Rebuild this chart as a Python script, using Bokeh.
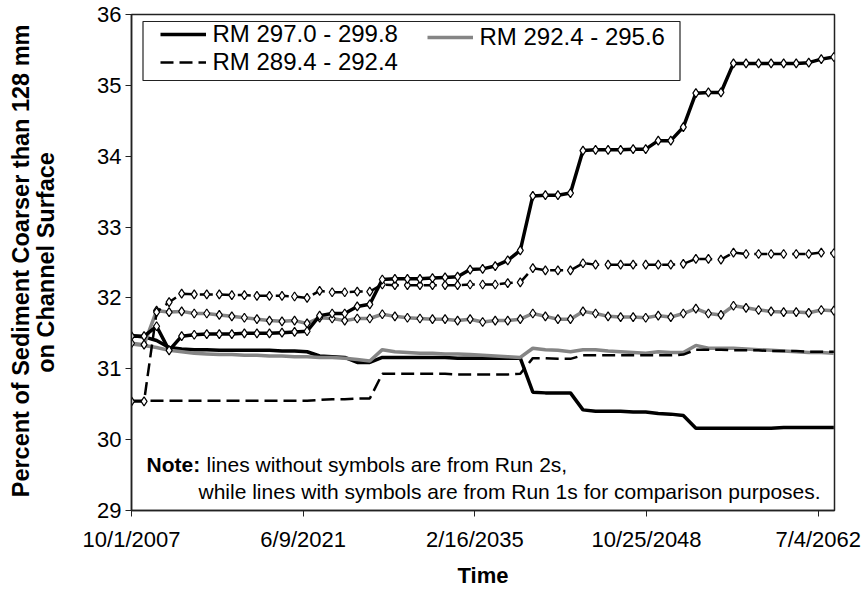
import pandas as pd
from bokeh.plotting import figure
from bokeh.models import (Range1d, FixedTicker, Legend, LegendItem, Label, Title, BoxAnnotation)
from bokeh.embed import file_html
from bokeh.resources import INLINE

# ---------------- data ----------------
start_date = "2007-10-01"
n_years = 57
tick_serials = [39356, 44356, 49356, 54356, 59356]
tick_labels = ["10/1/2007", "6/9/2021", "2/16/2035", "10/25/2048", "7/4/2062"]

# Run 2s (no symbols)
run2_rm297 = [31.47, 31.45, 31.40, 31.30, 31.28, 31.27, 31.27, 31.26, 31.26, 31.26,
              31.26, 31.26, 31.25, 31.25, 31.24, 31.18, 31.17, 31.16, 31.09, 31.09,
              31.16, 31.16, 31.16, 31.16, 31.16, 31.16, 31.15, 31.15, 31.15, 31.15,
              31.15, 31.15, 30.67, 30.66, 30.66, 30.66, 30.42, 30.40, 30.40, 30.40,
              30.39, 30.39, 30.37, 30.36, 30.34, 30.16, 30.16, 30.16, 30.16, 30.16,
              30.16, 30.16, 30.17, 30.17, 30.17, 30.17, 30.17]
run2_rm292 = [31.35, 31.33, 31.30, 31.26, 31.24, 31.22, 31.21, 31.20, 31.20, 31.19,
              31.19, 31.18, 31.18, 31.17, 31.17, 31.16, 31.16, 31.15, 31.13, 31.11,
              31.27, 31.24, 31.23, 31.22, 31.22, 31.21, 31.21, 31.20, 31.19, 31.18,
              31.17, 31.16, 31.29, 31.27, 31.26, 31.24, 31.27, 31.27, 31.25, 31.24,
              31.23, 31.22, 31.24, 31.23, 31.23, 31.33, 31.29, 31.29, 31.29, 31.28,
              31.27, 31.26, 31.25, 31.24, 31.23, 31.23, 31.22]
run2_rm289 = [30.55, 30.55, 30.55, 30.55, 30.55, 30.55, 30.55, 30.55, 30.55, 30.55,
              30.55, 30.55, 30.55, 30.55, 30.55, 30.56, 30.57, 30.57, 30.58, 30.58,
              30.93, 30.93, 30.93, 30.93, 30.93, 30.93, 30.92, 30.92, 30.92, 30.92,
              30.92, 30.93, 31.15, 31.15, 31.14, 31.14, 31.19, 31.19, 31.19, 31.19,
              31.19, 31.19, 31.19, 31.19, 31.20, 31.27, 31.27, 31.27, 31.26, 31.26,
              31.26, 31.25, 31.25, 31.25, 31.24, 31.24, 31.24]

# Run 1s (with symbols)
run1_rm297 = [31.46, 31.46, 31.60, 31.26, 31.46, 31.48, 31.49, 31.49, 31.49, 31.50,
              31.50, 31.50, 31.51, 31.52, 31.53, 31.75, 31.78, 31.78, 31.88, 31.91,
              32.26, 32.27, 32.27, 32.27, 32.28, 32.29, 32.30, 32.40, 32.41, 32.45,
              32.53, 32.67, 33.44, 33.45, 33.45, 33.48, 34.08, 34.09, 34.09, 34.09,
              34.10, 34.10, 34.22, 34.22, 34.41, 34.89, 34.90, 34.90, 35.31, 35.31,
              35.31, 35.31, 35.31, 35.31, 35.32, 35.37, 35.40]
run1_rm292 = [31.36, 31.34, 31.82, 31.80, 31.81, 31.78, 31.78, 31.76, 31.74, 31.72,
              31.70, 31.68, 31.67, 31.68, 31.64, 31.72, 31.71, 31.68, 31.71, 31.71,
              31.77, 31.74, 31.72, 31.71, 31.70, 31.70, 31.68, 31.70, 31.66, 31.68,
              31.68, 31.70, 31.78, 31.74, 31.70, 31.70, 31.81, 31.78, 31.74, 31.73,
              31.73, 31.72, 31.75, 31.73, 31.78, 31.85, 31.78, 31.76, 31.89, 31.86,
              31.83, 31.81, 31.80, 31.80, 31.79, 31.83, 31.82]
run1_rm289 = [30.54, 30.54, 31.80, 31.94, 32.06, 32.05, 32.05, 32.05, 32.04, 32.04,
              32.03, 32.03, 32.03, 32.02, 32.00, 32.10, 32.08, 32.08, 32.09, 32.09,
              32.19, 32.18, 32.18, 32.18, 32.18, 32.18, 32.18, 32.19, 32.19, 32.19,
              32.21, 32.22, 32.42, 32.39, 32.39, 32.39, 32.49, 32.47, 32.47, 32.47,
              32.47, 32.47, 32.47, 32.47, 32.48, 32.55, 32.55, 32.54, 32.64, 32.62,
              32.62, 32.62, 32.62, 32.62, 32.62, 32.64, 32.63]

# ---------------- x as Excel serial days ----------------
dates = pd.date_range(start_date, periods=n_years, freq=pd.DateOffset(years=1))
xs = [(d - pd.Timestamp("1899-12-30")).days for d in dates]

FONT = "Liberation Sans"
GRAY = "#858585"
DASH = "13 6"

p = figure(width=865, height=594, output_backend="svg", toolbar_location=None,
           x_range=Range1d(39356, 59830), y_range=Range1d(29, 36),
           min_border_left=131, min_border_right=31, min_border_top=14, min_border_bottom=84)
p.background_fill_color = "white"
p.border_fill_color = "white"
p.grid.visible = False
p.outline_line_color = "#222222"
p.outline_line_width = 1.5

# Run 2 lines
r_b2 = p.line(xs, run2_rm297, line_color="black", line_width=3.5)
r_g2 = p.line(xs, run2_rm292, line_color=GRAY, line_width=3.5)
r_d2 = p.line(xs, run2_rm289, line_color="black", line_width=2.5, line_dash=DASH)

# Run 1 lines with symbols
mk = dict(marker="diamond", size=9, fill_color="white", line_color="black", line_width=1.2)
p.line(xs, run1_rm292, line_color=GRAY, line_width=3.5)
p.scatter(xs, run1_rm292, **mk)
p.line(xs, run1_rm289, line_color="black", line_width=2.5, line_dash=DASH)
p.scatter(xs, run1_rm289, **mk)
p.line(xs, run1_rm297, line_color="black", line_width=3.5)
p.scatter(xs, run1_rm297, **mk)

# Axes
xa = p.xaxis[0]
xa.ticker = FixedTicker(ticks=tick_serials)
xa.major_label_overrides = {t: l for t, l in zip(tick_serials, tick_labels)}
ya = p.yaxis[0]
ya.ticker = FixedTicker(ticks=[29, 30, 31, 32, 33, 34, 35, 36])
for ax in (xa, ya):
    ax.minor_tick_line_color = None
    ax.major_tick_in = 0
    ax.major_tick_out = 6
    ax.major_tick_line_color = "#222222"
    ax.axis_line_color = "#222222"
    ax.axis_line_width = 1.5
    ax.major_label_text_font = FONT
    ax.major_label_text_font_size = "22px"
    ax.major_label_text_color = "black"
    ax.axis_label_text_font = FONT
    ax.axis_label_text_font_style = "bold"
    ax.axis_label_text_font_size = "23.5px"
    ax.axis_label_text_color = "black"

xa.major_label_standoff = 10
xa.axis_label = "Time"
xa.axis_label_standoff = 8
xa.axis_label_text_font_size = "22px"
ya.major_label_standoff = 4
ya.axis_label = "on Channel Surface"
ya.axis_label_standoff = 35

t_outer = Title(text="Percent of Sediment Coarser than 128 mm", align="right",
                text_font=FONT, text_font_size="23.5px", text_font_style="bold",
                text_color="black", standoff=-6, offset=10)
p.add_layout(t_outer, "left")

# Legend frame
legend_frame = BoxAnnotation(left=11.5, right=548.5, top=489, bottom=430,
                             left_units="screen", right_units="screen",
                             top_units="screen", bottom_units="screen",
                             fill_color="white", fill_alpha=1.0,
                             line_color="#222222", line_width=1.2, line_alpha=1.0)
p.add_layout(legend_frame)

def style_legend(lg):
    lg.label_text_font = FONT
    lg.label_text_font_size = "24px"
    lg.label_text_color = "black"
    lg.glyph_width = 46
    lg.glyph_height = 20
    lg.label_height = 20
    lg.label_standoff = 7
    lg.spacing = 0
    lg.padding = 3
    lg.margin = 0
    lg.border_line_alpha = 0
    lg.background_fill_alpha = 0

legend1 = Legend(items=[
    LegendItem(label="RM 297.0 - 299.8", renderers=[r_b2]),
    LegendItem(label="RM 289.4 - 292.4", renderers=[r_d2]),
], location=(25.5, 431))
style_legend(legend1)
legend1.spacing = -3
legend2 = Legend(items=[
    LegendItem(label="RM 292.4 - 295.6", renderers=[r_g2]),
], location=(292.5, 456))
style_legend(legend2)
p.add_layout(legend1, "center")
p.add_layout(legend2, "center")

# Note text
note_kw = dict(x_units="screen", y_units="screen", text_font=FONT, text_font_size="21px",
               text_color="black", text_baseline="alphabetic")
p.add_layout(Label(x=15, y=46, text="Note:", text_font_style="bold", **note_kw))
p.add_layout(Label(x=75, y=46, text="lines without symbols are from Run 2s,", **note_kw))
p.add_layout(Label(x=67, y=19, text="while lines with symbols are from Run 1s for comparison purposes.", **note_kw))

open("out.html", "w").write(file_html(p, INLINE))
